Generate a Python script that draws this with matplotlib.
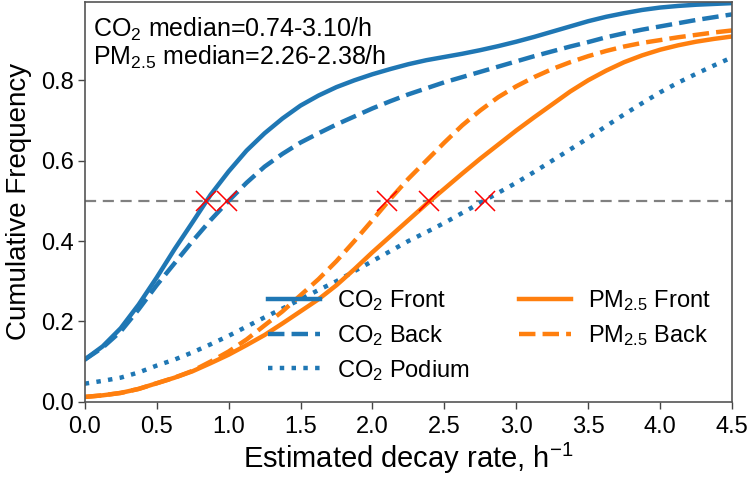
import matplotlib
matplotlib.use("Agg")
import matplotlib.pyplot as plt

plt.rcParams['font.family'] = ['Liberation Sans', 'DejaVu Sans']
plt.rcParams['mathtext.fontset'] = 'custom'
plt.rcParams['mathtext.rm'] = 'Liberation Sans'
plt.rcParams['mathtext.it'] = 'Liberation Sans:italic'

# decay-rate grid (h^-1)
rate = [0.0, 0.125, 0.25, 0.375, 0.5, 0.625, 0.75, 0.875, 1.0, 1.125,
        1.25, 1.375, 1.5, 1.625, 1.75, 1.875, 2.0, 2.125, 2.25, 2.375,
        2.5, 2.625, 2.75, 2.875, 3.0, 3.125, 3.25, 3.375, 3.5, 3.625,
        3.75, 3.875, 4.0, 4.125, 4.25, 4.375, 4.5]

co2_front = [0.105, 0.138, 0.183, 0.242, 0.309, 0.38, 0.447, 0.515, 0.573, 0.625,
             0.668, 0.705, 0.737, 0.762, 0.783, 0.80, 0.815, 0.828, 0.84, 0.85,
             0.858, 0.866, 0.875, 0.885, 0.896, 0.908, 0.921, 0.934, 0.947, 0.958,
             0.967, 0.975, 0.981, 0.985, 0.988, 0.99, 0.992]
co2_back = [0.105, 0.135, 0.175, 0.23, 0.29, 0.345, 0.40, 0.452, 0.50, 0.545,
            0.585, 0.617, 0.645, 0.668, 0.69, 0.71, 0.73, 0.748, 0.765, 0.78,
            0.795, 0.808, 0.821, 0.834, 0.847, 0.86, 0.872, 0.884, 0.895, 0.907,
            0.917, 0.926, 0.934, 0.942, 0.95, 0.957, 0.964]
co2_podium = [0.045, 0.052, 0.06, 0.073, 0.09, 0.105, 0.123, 0.143, 0.164, 0.187,
              0.21, 0.232, 0.255, 0.278, 0.30, 0.325, 0.35, 0.375, 0.40, 0.422,
              0.445, 0.47, 0.495, 0.52, 0.545, 0.572, 0.60, 0.628, 0.656, 0.686,
              0.715, 0.743, 0.77, 0.794, 0.816, 0.837, 0.857]
pm_front = [0.012, 0.016, 0.022, 0.032, 0.046, 0.06, 0.076, 0.096, 0.117, 0.141,
            0.166, 0.195, 0.225, 0.255, 0.29, 0.33, 0.372, 0.412, 0.452, 0.492,
            0.53, 0.568, 0.605, 0.64, 0.675, 0.708, 0.74, 0.772, 0.80, 0.824,
            0.845, 0.862, 0.876, 0.887, 0.896, 0.903, 0.909]
pm_back = [0.012, 0.016, 0.022, 0.032, 0.046, 0.06, 0.077, 0.10, 0.125, 0.155,
           0.19, 0.225, 0.265, 0.305, 0.35, 0.40, 0.452, 0.505, 0.555, 0.60,
           0.645, 0.688, 0.725, 0.758, 0.785, 0.808, 0.828, 0.845, 0.86, 0.873,
           0.884, 0.893, 0.90, 0.907, 0.913, 0.919, 0.924]

medians = [0.84, 0.99, 2.1, 2.39, 2.78]
median_level = 0.5

labels = ['CO$_2$ Front', 'CO$_2$ Back', 'CO$_2$ Podium',
          'PM$_{2.5}$ Front', 'PM$_{2.5}$ Back']
annot = 'CO$_2$ median=0.74-3.10/h\nPM$_{2.5}$ median=2.26-2.38/h'
xticks = [0.0, 0.5, 1.0, 1.5, 2.0, 2.5, 3.0, 3.5, 4.0, 4.5]
yticks = [0.0, 0.2, 0.4, 0.6, 0.8]

blue = '#1f77b4'
orange = '#ff7f0e'

fig = plt.figure(figsize=(7.5, 4.8), dpi=100)
ax = fig.add_axes([0.113, 0.163, 0.863, 0.833])

lw = 3.2
kw = dict(lw=lw, solid_joinstyle='round', dash_joinstyle='round')
h1, = ax.plot(rate, co2_front, color=blue, ls='-', **kw)
h2, = ax.plot(rate, co2_back, color=blue, ls='--', **kw)
h3, = ax.plot(rate, co2_podium, color=blue, ls=':', **kw)
h4, = ax.plot(rate, pm_front, color=orange, ls='-', **kw)
h5, = ax.plot(rate, pm_back, color=orange, ls='--', **kw)

ax.axhline(median_level, color='#808080', lw=1.6, ls=(0, (5, 3)), zorder=1)
ax.plot(medians, [median_level] * len(medians), ls='none', marker='x',
        color='red', markersize=15, mew=1.1, zorder=5)

ax.set_xlim(0, 4.5)
ax.set_ylim(0, 0.995)
ax.set_xticks(xticks)
ax.set_yticks(yticks)
ax.set_xticklabels([f'{v:.1f}' for v in xticks])
ax.set_yticklabels([f'{v:.1f}' for v in yticks])
ax.tick_params(labelsize=17, length=5, width=1, color='#444444')
ax.tick_params(axis='x', pad=5)
ax.tick_params(axis='y', pad=3)
for s in ax.spines.values():
    s.set_color('#555555')
    s.set_linewidth(1.2)

ax.set_xlabel('Estimated decay rate, h$^{-1}$', fontsize=21, labelpad=2)
ax.set_ylabel('Cumulative Frequency', fontsize=20, labelpad=6)

ax.text(0.012, 0.965, annot, transform=ax.transAxes, ha='left', va='top',
        fontsize=18, linespacing=1.05)

leg = ax.legend([h1, h2, h3, h4, h5], labels, ncol=2, frameon=False,
                fontsize=17, loc='lower right', bbox_to_anchor=(0.967, 0.048),
                borderaxespad=0, borderpad=0, handlelength=2.2,
                handletextpad=0.72, columnspacing=2.1, labelspacing=0.42)

fig.savefig('out.png', dpi=100)
